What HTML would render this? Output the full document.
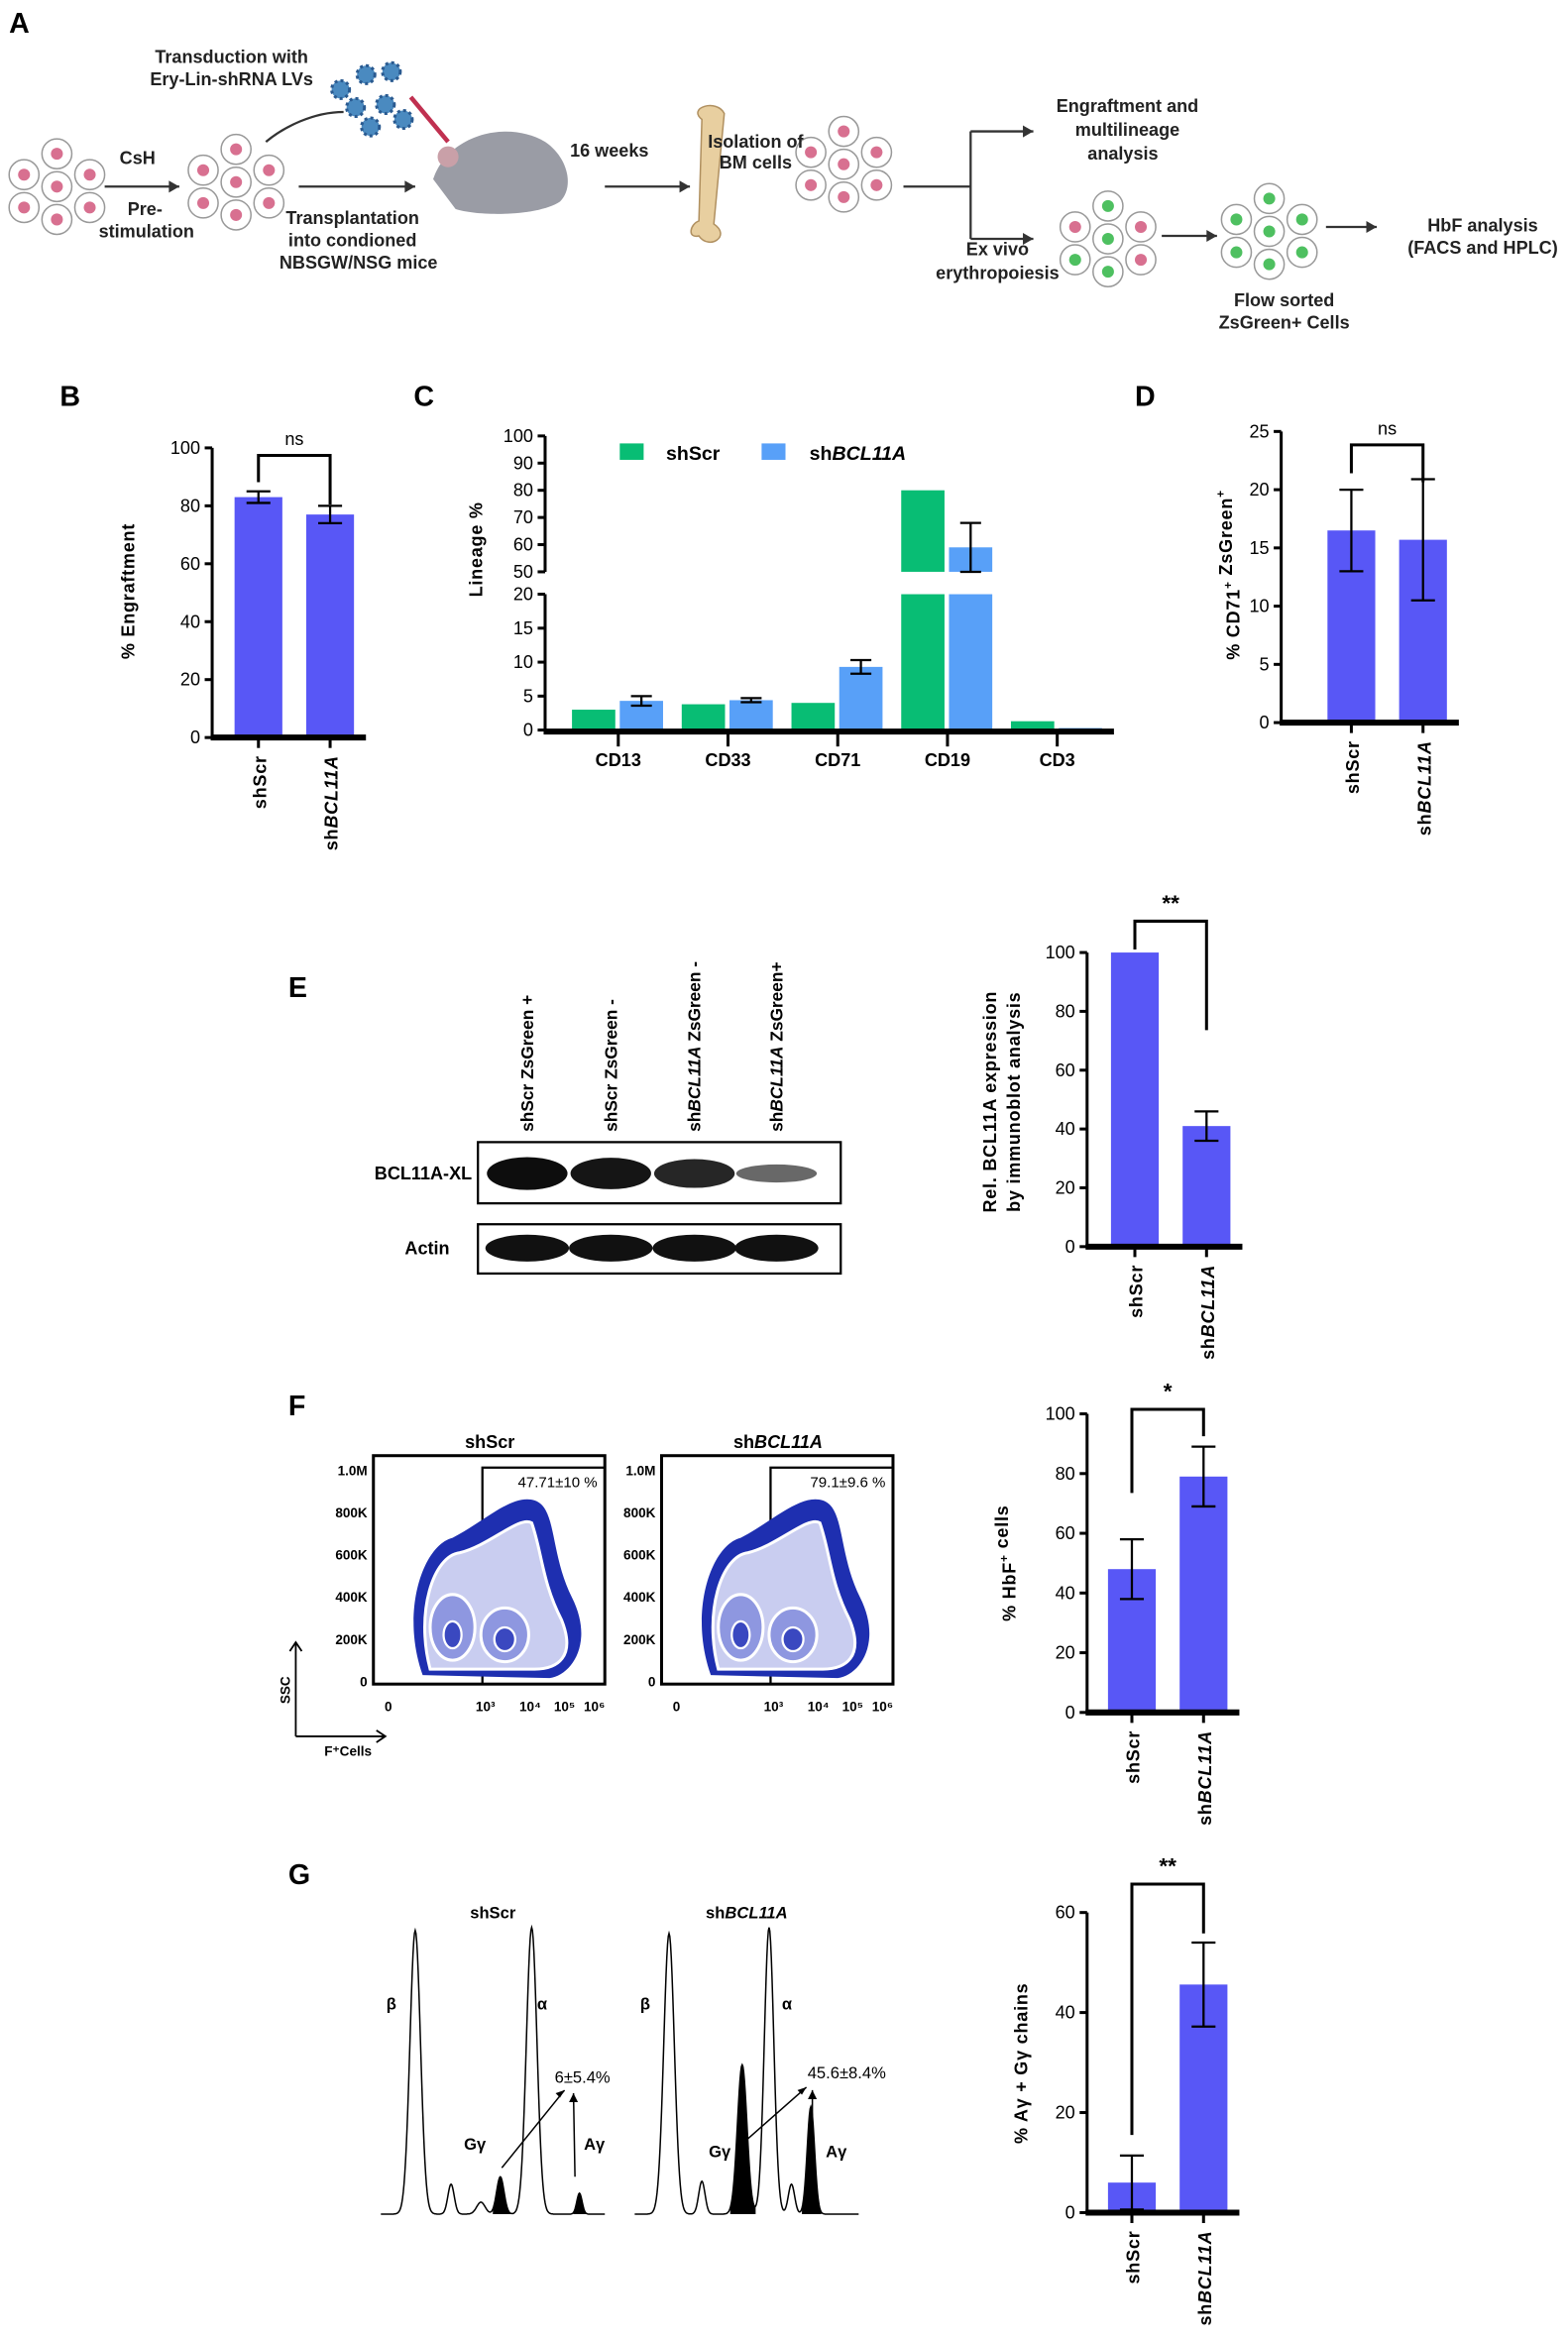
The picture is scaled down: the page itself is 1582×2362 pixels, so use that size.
<!DOCTYPE html>
<html><head><meta charset="utf-8"><style>
html,body{margin:0;padding:0;background:#fff}
svg{display:block;font-family:"Liberation Sans",Arial,sans-serif}
</style></head><body>
<svg id="fig" xmlns="http://www.w3.org/2000/svg" width="1582" height="2362" viewBox="0 0 1050 1568">
<g id="panelA"></g>
<g id="panels"></g>
</svg>
<script>
// ---------- DATA ----------
const bCats = ['shScr', 'shBCL11A'];
const bVals = [83, 77];
const bErr = [2, 3];
const bTicks = [0, 20, 40, 60, 80, 100];

const cCats = ['CD13', 'CD33', 'CD71', 'CD19', 'CD3'];
const cScr = [3, 3.8, 4, 80, 1.3];
const cBcl = [4.3, 4.4, 9.3, 59, 0.3];
const cBclErr = [0.7, 0.3, 1, 9, 0];
const cTicksLow = [0, 5, 10, 15, 20];
const cTicksHigh = [50, 60, 70, 80, 90, 100];

const dCats = ['shScr', 'shBCL11A'];
const dVals = [16.5, 15.7];
const dErr = [3.5, 5.2];
const dTicks = [0, 5, 10, 15, 20, 25];

const eCats = ['shScr', 'shBCL11A'];
const eVals = [100, 41];
const eErr = [0, 5];
const eTicks = [0, 20, 40, 60, 80, 100];

const fCats = ['shScr', 'shBCL11A'];
const fVals = [48, 79];
const fErr = [10, 10];
const fTicks = [0, 20, 40, 60, 80, 100];

const gCats = ['shScr', 'shBCL11A'];
const gVals = [6, 45.6];
const gErr = [5.4, 8.4];
const gTicks = [0, 20, 40, 60];

// ---------- HELPERS ----------
const NS = 'http://www.w3.org/2000/svg';
const root = document.getElementById('panels');
const A = document.getElementById('panelA');
function mk(tag, attrs, parent, txt) {
  const e = document.createElementNS(NS, tag);
  for (const k in attrs) e.setAttribute(k, attrs[k]);
  if (txt !== undefined) e.textContent = txt;
  (parent || root).appendChild(e);
  return e;
}
function text(x, y, s, opts, parent) {
  const o = Object.assign({ x: x, y: y, 'font-size': 12, 'font-weight': 'bold', 'text-anchor': 'middle', fill: '#000' }, opts || {});
  return mk('text', o, parent, s);
}
function catLabel(g, cx, y, s) {
  const t = mk('text', { transform: 'translate(' + (cx + 5) + ',' + y + ') rotate(-90)', 'font-size': 12, 'font-weight': 'bold', 'text-anchor': 'end', 'letter-spacing': '0.5' }, g);
  if (s.indexOf('BCL11A') >= 0 && s !== 'shBCL11A-plain') {
    mk('tspan', {}, t, 'sh');
    mk('tspan', { 'font-style': 'italic' }, t, 'BCL11A');
  } else mk('tspan', {}, t, s);
  return t;
}
const BAR = '#5857f6';

function barChart(name, cfg, cats, vals, errs, ticks) {
  const g = mk('g', {});
  
  
  const vmax = ticks[ticks.length - 1];
  const ys = v => cfg.y0 - v / vmax * (cfg.y0 - cfg.yTop);
  mk('line', { x1: cfg.ax, y1: cfg.y0, x2: cfg.ax, y2: cfg.yTop, stroke: '#000', 'stroke-width': 2 }, g);
  ticks.forEach(t => {
    const tk = mk('line', { x1: cfg.ax - 5, y1: ys(t), x2: cfg.ax, y2: ys(t), stroke: '#000', 'stroke-width': 2 }, g);
    
    
    const tl = text(cfg.ax - 8, ys(t) + 4, String(t), { 'text-anchor': 'end', 'font-size': 12, 'font-weight': 'normal' }, g);
    
    
  });
  cats.forEach((c, i) => {
    const cx = cfg.centers[i];
    const r = mk('rect', { x: cx - cfg.bw / 2, y: ys(vals[i]), width: cfg.bw, height: cfg.y0 - ys(vals[i]), fill: BAR }, g);
    
    
    if (errs[i] > 0) {
      const e = mk('path', { d: 'M' + (cx - 8) + ',' + ys(vals[i] + errs[i]) + 'h16M' + cx + ',' + ys(vals[i] + errs[i]) + 'V' + ys(vals[i] - errs[i]) + 'M' + (cx - 8) + ',' + ys(vals[i] - errs[i]) + 'h16', stroke: '#000', 'stroke-width': 1.5, fill: 'none' }, g);
      
      
    }
    mk('line', { x1: cx, y1: cfg.y0, x2: cx, y2: cfg.y0 + 7, stroke: '#000', 'stroke-width': 2 }, g);
    const l = catLabel(g, cx, cfg.y0 + 12, c);
    
    
  });
  mk('line', { x1: cfg.ax - 1, y1: cfg.y0, x2: cfg.centers[1] + cfg.bw / 2 + 8, y2: cfg.y0, stroke: '#000', 'stroke-width': 4 }, g);
  // significance bracket
  const b = mk('path', { d: 'M' + cfg.centers[0] + ',' + cfg.b1 + 'V' + cfg.by + 'H' + cfg.centers[1] + 'V' + cfg.b2, stroke: '#000', 'stroke-width': 2, fill: 'none' }, g);
  
  
  const s = text((cfg.centers[0] + cfg.centers[1]) / 2, cfg.by - 7, cfg.sig, { 'font-weight': cfg.sig === 'ns' ? 'normal' : 'bold', 'font-size': cfg.sig === 'ns' ? 12 : 15 }, g);
  
  
  // y title
  const yt = mk('text', { transform: 'translate(' + cfg.tx + ',' + cfg.ty + ') rotate(-90)', 'font-size': 12, 'font-weight': 'bold', 'text-anchor': 'middle', 'letter-spacing': '0.5' }, g);
  
  
  cfg.title.forEach((line, k) => {
    const tsp = mk('tspan', { x: 0, dy: k === 0 ? 0 : 16 }, yt);
    line.forEach(part => {
      const p = mk('tspan', part.sup ? { 'font-size': 8, dy: -5 } : (part.it ? { 'font-style': 'italic' } : {}), tsp, part.t);
      if (part.sup) mk('tspan', { dy: 5 }, tsp, '');
    });
  });
  return g;
}

function panelLetter(x, y, s) {
  const t = text(x, y, s, { 'font-size': 19, 'text-anchor': 'start' });
  
  
}
['A', 'B', 'C', 'D', 'E', 'F', 'G'].forEach((s, i) => {
  const pos = [[6, 22], [40, 272], [277, 272], [760, 272], [193, 668], [193, 948], [193, 1262]][i];
  panelLetter(pos[0], pos[1], s);
});

// ---------- PANEL B ----------
barChart('chart-b-engraftment', { ax: 142, y0: 494, yTop: 300, centers: [173, 221], bw: 32, by: 305, b1: 323, b2: 338, sig: 'ns', tx: 90, ty: 396, title: [[{ t: '% Engraftment' }]] }, bCats, bVals, bErr, bTicks);

// ---------- PANEL D ----------
barChart('chart-d-cd71', { ax: 858, y0: 484, yTop: 289, centers: [905, 953], bw: 32, by: 298, b1: 317, b2: 323, sig: 'ns', tx: 830, ty: 385, title: [[{ t: '% CD71' }, { t: '+', sup: 1 }, { t: ' ZsGreen' }, { t: '+', sup: 1 }]] }, dCats, dVals, dErr, dTicks);

// ---------- PANEL E ----------
barChart('chart-e-bcl11a', { ax: 728, y0: 835, yTop: 638, centers: [760, 808], bw: 32, by: 617, b1: 636, b2: 690, sig: '**', tx: 667, ty: 738, title: [[{ t: 'Rel. BCL11A expression' }], [{ t: 'by immunoblot analysis' }]] }, eCats, eVals, eErr, eTicks);

// ---------- PANEL F ----------
barChart('chart-f-hbf', { ax: 728, y0: 1147, yTop: 947, centers: [758, 806], bw: 32, by: 944, b1: 1000, b2: 962, sig: '*', tx: 680, ty: 1047, title: [[{ t: '% HbF' }, { t: '+', sup: 1 }, { t: ' cells' }]] }, fCats, fVals, fErr, fTicks);

// ---------- PANEL G ----------
barChart('chart-g-gamma', { ax: 728, y0: 1482, yTop: 1281, centers: [758, 806], bw: 32, by: 1262, b1: 1430, b2: 1295, sig: '**', tx: 688, ty: 1382, title: [[{ t: '% Aγ + Gγ chains' }]] }, gCats, gVals, gErr, gTicks);

// ---------- PANEL C ----------
(function () {
  const g = mk('g', {});
  
  
  const ax = 365;
  const yLow = v => 489 - v * 4.55;
  const yHigh = v => 292 + (100 - v) * 1.82;
  mk('line', { x1: ax, y1: 489, x2: ax, y2: 398, stroke: '#000', 'stroke-width': 2 }, g);
  mk('line', { x1: ax, y1: 383, x2: ax, y2: 292, stroke: '#000', 'stroke-width': 2 }, g);
  cTicksLow.forEach(t => {
    mk('line', { x1: ax - 5, y1: yLow(t), x2: ax, y2: yLow(t), stroke: '#000', 'stroke-width': 2 }, g);
    const l = text(ax - 8, yLow(t) + 4, String(t), { 'text-anchor': 'end', 'font-weight': 'normal' }, g);
    
    
  });
  cTicksHigh.forEach(t => {
    mk('line', { x1: ax - 5, y1: yHigh(t), x2: ax, y2: yHigh(t), stroke: '#000', 'stroke-width': 2 }, g);
    const l = text(ax - 8, yHigh(t) + 4, String(t), { 'text-anchor': 'end', 'font-weight': 'normal' }, g);
    
    
  });
  const centers = cCats.map((c, i) => 414 + i * 73.5);
  function drawBar(x, w, v, col, nm) {
    if (v <= 20) {
      const r = mk('rect', { x: x, y: yLow(v), width: w, height: 489 - yLow(v), fill: col }, g);
      
      
    } else {
      const r = mk('rect', { x: x, y: 398, width: w, height: 91, fill: col }, g);
      
      
      const r2 = mk('rect', { x: x, y: yHigh(v), width: w, height: 383 - yHigh(v), fill: col }, g);
      
      
    }
  }
  function yAny(v) { return v <= 20 ? yLow(v) : yHigh(v); }
  cCats.forEach((c, i) => {
    const cx = centers[i];
    drawBar(cx - 31, 29, cScr[i], '#08bd74', 'bar-shscr-' + c.toLowerCase());
    drawBar(cx + 1, 29, cBcl[i], '#58a0f8', 'bar-shbcl11a-' + c.toLowerCase());
    if (cBclErr[i] > 0) {
      const bx = cx + 15.5;
      const e = mk('path', { d: 'M' + (bx - 7) + ',' + yAny(cBcl[i] + cBclErr[i]) + 'h14M' + bx + ',' + yAny(cBcl[i] + cBclErr[i]) + 'V' + yAny(cBcl[i] - cBclErr[i]) + 'M' + (bx - 7) + ',' + yAny(cBcl[i] - cBclErr[i]) + 'h14', stroke: '#000', 'stroke-width': 1.5, fill: 'none' }, g);
      
      
    }
    mk('line', { x1: cx, y1: 489, x2: cx, y2: 500, stroke: '#000', 'stroke-width': 2 }, g);
    const l = text(cx, 513, c, {}, g);
    
    
  });
  mk('line', { x1: ax - 1, y1: 490, x2: 746, y2: 490, stroke: '#000', 'stroke-width': 4 }, g);
  const yt = text(0, 0, 'Lineage %', { transform: 'translate(323,368) rotate(-90)', 'letter-spacing': '0.5' }, g);
  
  
  const lg = mk('g', {}, g);
  
  
  mk('rect', { x: 415, y: 297, width: 16, height: 11, fill: '#08bd74' }, lg);
  text(446, 308, 'shScr', { 'text-anchor': 'start', 'font-size': 13 }, lg);
  mk('rect', { x: 510, y: 297, width: 16, height: 11, fill: '#58a0f8' }, lg);
  const t = text(542, 308, 'sh', { 'text-anchor': 'start', 'font-size': 13 }, lg);
  mk('tspan', { 'font-style': 'italic' }, t, 'BCL11A');
})();

// ---------- PANEL E BLOT ----------
(function () {
  const g = mk('g', {});
  
  
  mk('rect', { x: 320, y: 765, width: 243, height: 41, fill: '#fff', stroke: '#000', 'stroke-width': 1.5 }, g);
  mk('rect', { x: 320, y: 820, width: 243, height: 33, fill: '#fff', stroke: '#000', 'stroke-width': 1.5 }, g);
  const lanes = [353, 409, 465, 520];
  const xlI = [1, 0.95, 0.85, 0.45];
  lanes.forEach((x, i) => {
    mk('ellipse', { cx: x, cy: 786, rx: 27, ry: 9 * xlI[i] + 2, fill: '#000', opacity: 0.3 + 0.65 * xlI[i] }, g);
    mk('ellipse', { cx: x, cy: 836, rx: 28, ry: 9, fill: '#111' }, g);
  });
  text(316, 790, 'BCL11A-XL', { 'text-anchor': 'end' }, g);
  text(301, 840, 'Actin', { 'text-anchor': 'end' }, g);
  const labels = [['shScr ZsGreen +'], ['shScr ZsGreen -'], ['sh', 'BCL11A', ' ZsGreen -'], ['sh', 'BCL11A', ' ZsGreen+']];
  labels.forEach((l, i) => {
    const t = mk('text', { transform: 'translate(' + (lanes[i] + 4) + ',758) rotate(-90)', 'font-size': 11.5, 'font-weight': 'bold' }, g);
    
    
    l.forEach((p, k) => mk('tspan', k === 1 ? { 'font-style': 'italic' } : {}, t, p));
  });
})();

// ---------- PANEL F FLOW ----------
function flowPlot(x0, title, pct, italic, name) {
  const g = mk('g', {});
  
  
  const t = text(x0 + 78, 970, '', { 'font-size': 12 }, g);
  if (italic) { mk('tspan', {}, t, 'sh'); mk('tspan', { 'font-style': 'italic' }, t, 'BCL11A'); } else t.textContent = title;
  mk('rect', { x: x0, y: 975, width: 155, height: 153, fill: 'none', stroke: '#000', 'stroke-width': 2 }, g);
  mk('rect', { x: x0 + 73, y: 983, width: 82, height: 145, fill: 'none', stroke: '#000', 'stroke-width': 1.5 }, g);
  text(x0 + 150, 996, pct, { 'text-anchor': 'end', 'font-size': 10, 'font-weight': 'normal' }, g);
  ['1.0M', '800K', '600K', '400K', '200K', '0'].forEach((s, i) => {
    text(x0 - 4, 988 + i * 28.3, s, { 'text-anchor': 'end', 'font-size': 9 }, g);
  });
  [['0', 10], ['10³', 75], ['10⁴', 105], ['10⁵', 128], ['10⁶', 148]].forEach(p => text(x0 + p[1], 1146, p[0], { 'font-size': 9 }, g));
  const cx = x0 + 78;
  mk('path', { d: 'M' + (cx - 45) + ',1122 C' + (cx - 60) + ',1080 ' + (cx - 45) + ',1035 ' + (cx - 25) + ',1030 C' + (cx - 5) + ',1020 ' + (cx + 15) + ',1000 ' + (cx + 30) + ',1005 C' + (cx + 45) + ',1010 ' + (cx + 40) + ',1040 ' + (cx + 55) + ',1070 C' + (cx + 70) + ',1100 ' + (cx + 55) + ',1122 ' + (cx + 40) + ',1124 Z', fill: '#1e2fb0' }, g);
  mk('path', { d: 'M' + (cx - 40) + ',1118 C' + (cx - 50) + ',1080 ' + (cx - 38) + ',1042 ' + (cx - 20) + ',1040 C' + (cx + 0) + ',1035 ' + (cx + 20) + ',1015 ' + (cx + 28) + ',1020 C' + (cx + 35) + ',1040 ' + (cx + 35) + ',1060 ' + (cx + 48) + ',1085 C' + (cx + 58) + ',1110 ' + (cx + 45) + ',1118 ' + (cx + 30) + ',1118 Z', fill: '#c9cdf0', stroke: '#fff', 'stroke-width': 2 }, g);
  mk('ellipse', { cx: cx - 25, cy: 1090, rx: 15, ry: 22, fill: '#8e97e0', stroke: '#fff', 'stroke-width': 2 }, g);
  mk('ellipse', { cx: cx + 10, cy: 1095, rx: 16, ry: 18, fill: '#8e97e0', stroke: '#fff', 'stroke-width': 2 }, g);
  mk('ellipse', { cx: cx - 25, cy: 1095, rx: 6, ry: 9, fill: '#3a48c0', stroke: '#fff', 'stroke-width': 1.5 }, g);
  mk('ellipse', { cx: cx + 10, cy: 1098, rx: 7, ry: 8, fill: '#3a48c0', stroke: '#fff', 'stroke-width': 1.5 }, g);
}
flowPlot(250, 'shScr', '47.71±10 %', false, 'flow-plot-shscr');
flowPlot(443, '', '79.1±9.6 %', true, 'flow-plot-shbcl11a');
(function () {
  const g = mk('g', {});
  
  
  mk('path', { d: 'M198,1163V1100M194,1106L198,1100L202,1106M198,1163H258M252,1159L258,1163L252,1167', stroke: '#000', fill: 'none', 'stroke-width': 1.2 }, g);
  text(0, 0, 'SSC', { transform: 'translate(194,1132) rotate(-90)', 'font-size': 9 }, g);
  text(233, 1176, 'F⁺Cells', { 'font-size': 9 }, g);
})();

// ---------- PANEL G CHROMATOGRAMS ----------
function chrom(x0, peaks, fills, name) {
  const g = mk('g', {});
  
  
  const f = x => { let y = 0; peaks.forEach(p => { y += p[1] * Math.exp(-Math.pow((x - p[0]) / p[2], 2)); }); return 1483 - y; };
  let d = '';
  for (let x = x0; x <= x0 + 150; x += 0.5) d += (d ? 'L' : 'M') + x + ',' + f(x).toFixed(1);
  fills.forEach(fl => {
    let fd = 'M' + fl[0] + ',1483';
    for (let x = fl[0]; x <= fl[1]; x += 0.5) fd += 'L' + x + ',' + f(x).toFixed(1);
    fd += 'L' + fl[1] + ',1483Z';
    mk('path', { d: fd, fill: '#000' }, g);
  });
  mk('path', { d: d, fill: 'none', stroke: '#000', 'stroke-width': 1 }, g);
}
chrom(255, [[278, 190, 5], [302, 20, 3], [335, 25, 3.5], [356, 192, 5], [388, 14, 2.5], [322, 8, 4]], [[330, 342], [384, 393]], 'hplc-shscr');
chrom(425, [[448, 188, 5], [470, 22, 3], [497, 100, 4.5], [515, 192, 4.5], [530, 20, 3], [543, 72, 3.5]], [[489, 506], [537, 550]], 'hplc-shbcl11a');
(function () {
  const g = mk('g', {});
  
  
  text(330, 1285, 'shScr', { 'font-size': 11 }, g);
  const t = text(500, 1285, 'sh', { 'font-size': 11 }, g); mk('tspan', { 'font-style': 'italic' }, t, 'BCL11A');
  [[262, 1346, 'β'], [363, 1346, 'α'], [318, 1440, 'Gγ'], [398, 1440, 'Aγ'], [432, 1346, 'β'], [527, 1346, 'α'], [482, 1445, 'Gγ'], [560, 1445, 'Aγ']].forEach(p => text(p[0], p[1], p[2], { 'font-size': 11 }, g));
  text(390, 1395, '6±5.4%', { 'font-size': 11, 'font-weight': 'normal' }, g);
  text(567, 1392, '45.6±8.4%', { 'font-size': 11, 'font-weight': 'normal' }, g);
  mk('path', { d: 'M336,1452L378,1400M385,1458L384,1402M498,1435L540,1398M544,1438L544,1400', stroke: '#000', 'stroke-width': 1, fill: 'none' }, g);
  mk('path', { d: 'M378,1400l-6,2l3,3zM384,1402l-3,6h6zM540,1398l-6,2l3,3zM544,1400l-3,6h6z', fill: '#000' }, g);
})();

// ---------- PANEL A SCHEMATIC ----------
function cluster(cx, cy, colors, nm) {
  const g = mk('g', {}, A);
  
  
  const pos = [[0, 0], [-22, -8], [0, -22], [22, -8], [-22, 14], [22, 14], [0, 22], [-10, -40]];
  for (let i = 0; i < 7; i++) {
    const p = pos[i];
    mk('circle', { cx: cx + p[0], cy: cy + p[1], r: 10, fill: '#fff', stroke: '#999', 'stroke-width': 1 }, g);
    mk('circle', { cx: cx + p[0], cy: cy + p[1], r: 4, fill: colors[i % colors.length] }, g);
  }
}
const PK = '#d87090', GR = '#4ec060';
cluster(38, 125, [PK], 'cells-initial');
cluster(158, 122, [PK], 'cells-stimulated');
cluster(565, 110, [PK], 'bm-cells');
cluster(742, 160, [GR, PK, GR, PK, GR, PK, GR], 'ex-vivo-cells');
cluster(850, 155, [GR], 'sorted-cells');
function arrow(x1, y1, x2, y2) { mk('path', { d: 'M' + x1 + ',' + y1 + 'L' + x2 + ',' + y2, stroke: '#333', 'stroke-width': 1.5, fill: 'none' }, A); mk('path', { d: 'M' + x2 + ',' + y2 + 'l-7,-4v8z', fill: '#333' }, A); }
arrow(70, 125, 120, 125); arrow(200, 125, 278, 125); arrow(405, 125, 462, 125);
mk('path', { d: 'M605,125H650M650,88V160', stroke: '#333', 'stroke-width': 1.5, fill: 'none' }, A);
arrow(650, 88, 692, 88); arrow(650, 160, 692, 160); arrow(778, 158, 815, 158); arrow(888, 152, 922, 152);
mk('path', { d: 'M230,75 C210,75 190,85 178,95', stroke: '#333', 'stroke-width': 1.5, fill: 'none' }, A);
[[228, 60], [245, 50], [262, 48], [238, 72], [258, 70], [248, 85], [270, 80]].forEach(p => { mk('circle', { cx: p[0], cy: p[1], r: 6, fill: '#4a8ac0', stroke: '#2a5a90', 'stroke-dasharray': '2 2', 'stroke-width': 2 }, A); });
mk('path', { d: 'M290,120 C300,90 340,80 365,95 C380,105 385,125 375,135 C360,145 320,145 305,140 Z', fill: '#9a9ca5' }, A);
mk('circle', { cx: 300, cy: 105, r: 7, fill: '#c9a0a8' }, A);
mk('path', { d: 'M275,65 L300,95', stroke: '#c03050', 'stroke-width': 3 }, A);
mk('path', { d: 'M470,80 C460,72 480,66 485,76 L478,150 C490,158 475,168 468,158 C460,160 462,150 468,148 Z', fill: '#e8cfa0', stroke: '#b09060', 'stroke-width': 1 }, A);
[['Transduction with', 155, 42], ['Ery-Lin-shRNA LVs', 155, 57], ['CsH', 92, 110], ['Pre-', 97, 144], ['stimulation', 98, 159], ['Transplantation', 236, 150], ['into condioned', 236, 165], ['NBSGW/NSG mice', 240, 180], ['16 weeks', 408, 105], ['Isolation of', 506, 99], ['BM cells', 506, 113], ['Engraftment and', 755, 75], ['multilineage', 755, 91], ['analysis', 752, 107], ['Ex vivo', 668, 171], ['erythropoiesis', 668, 187], ['Flow sorted', 860, 205], ['ZsGreen+ Cells', 860, 220], ['HbF analysis', 993, 155], ['(FACS and HPLC)', 993, 170]].forEach(p => {
  const t = text(p[1], p[2], p[0], { 'font-size': 12, fill: '#222' }, A);
  
  
});
</script>
</body></html>
